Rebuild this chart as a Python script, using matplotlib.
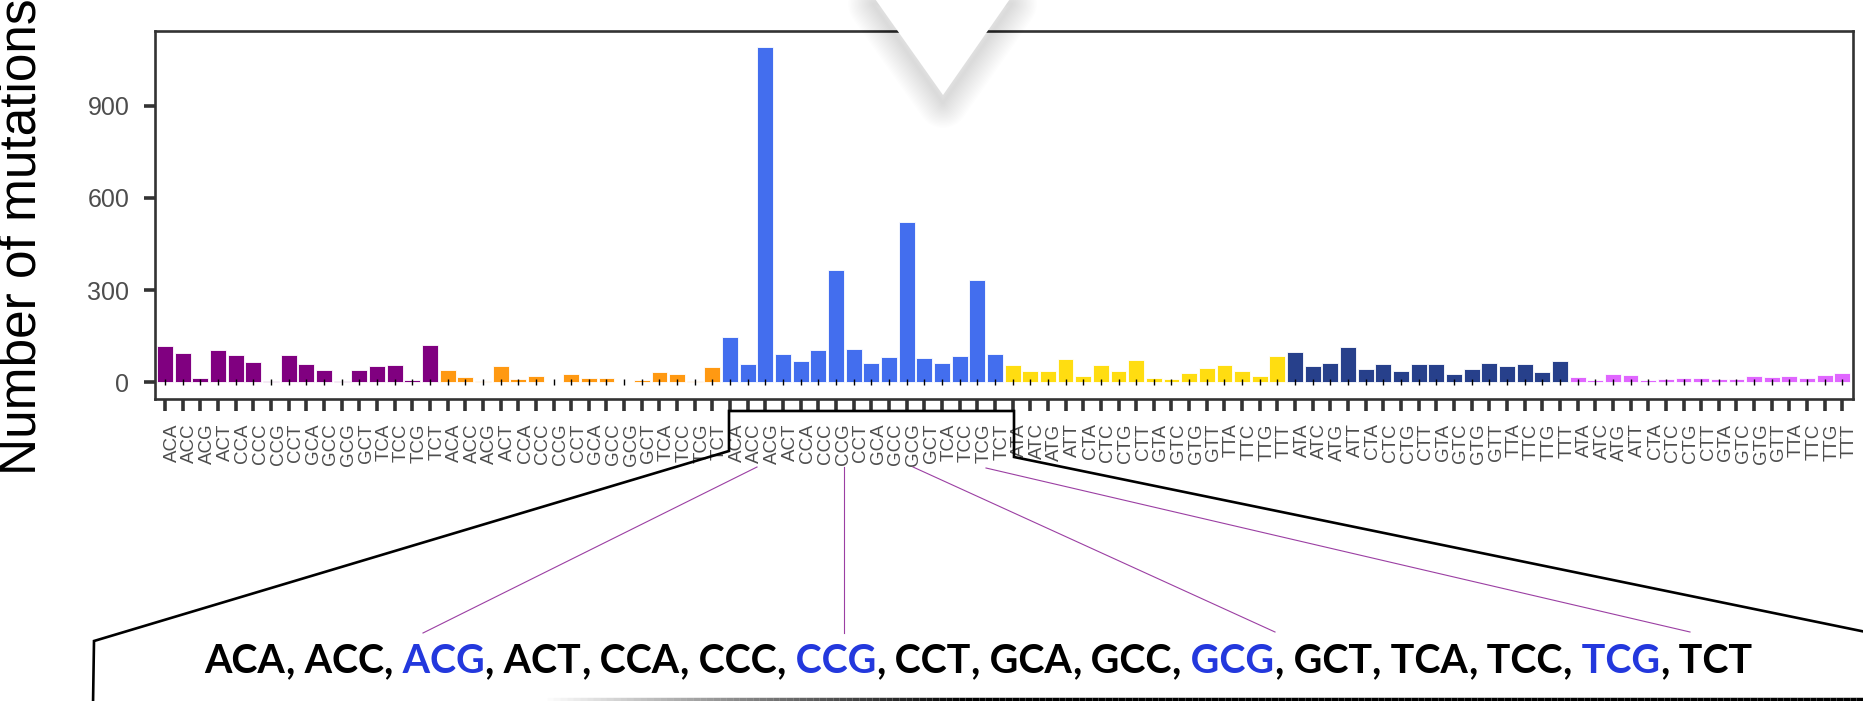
import matplotlib
matplotlib.use('Agg')
import matplotlib.pyplot as plt
import numpy as np
from matplotlib.patches import Polygon
from matplotlib.collections import LineCollection
from matplotlib.transforms import ScaledTranslation
from matplotlib.font_manager import FontProperties

# substitution classes and their colours
classes = ['C>A', 'C>G', 'C>T', 'T>A', 'T>C', 'T>G']
class_colors = ['#800080', '#FF9912', '#436EEE', '#FFDD11', '#27408B', '#E066FF']

# trinucleotide contexts
c_contexts = ['ACA', 'ACC', 'ACG', 'ACT', 'CCA', 'CCC', 'CCG', 'CCT',
              'GCA', 'GCC', 'GCG', 'GCT', 'TCA', 'TCC', 'TCG', 'TCT']
t_contexts = ['ATA', 'ATC', 'ATG', 'ATT', 'CTA', 'CTC', 'CTG', 'CTT',
              'GTA', 'GTC', 'GTG', 'GTT', 'TTA', 'TTC', 'TTG', 'TTT']

# mutation counts per context
ca = [117, 95, 14, 106, 90, 65, 4, 90, 59, 40, 4, 40, 54, 57, 8, 121]
cg = [41, 17, 5, 52, 11, 19, 1, 27, 14, 15, 1, 8, 33, 27, 4, 50]
ct = [147, 59, 1090, 92, 70, 105, 365, 108, 64, 81, 523, 78, 63, 87, 332, 92]
ta = [55, 36, 35, 76, 21, 56, 35, 73, 15, 10, 31, 46, 55, 37, 21, 84]
tc = [100, 52, 63, 114, 43, 59, 37, 60, 59, 27, 44, 63, 54, 58, 32, 70]
tg = [18, 8, 27, 23, 8, 11, 14, 14, 9, 10, 21, 16, 21, 15, 25, 30]

W, H = 1863, 701
fig = plt.figure(figsize=(W / 100, H / 100), dpi=100)
ax = fig.add_axes([154.5 / W, 1 - 399 / H, (1853 - 154.5) / W, (399 - 30.5) / H])

values = np.array(ca + cg + ct + ta + tc + tg)
labels = c_contexts * 3 + t_contexts * 3
cols = np.repeat(class_colors, 16)
x = np.arange(len(values))

ax.bar(x, values, width=0.9, color=cols, edgecolor='white', linewidth=0.6, zorder=2)
ax.plot(x, np.zeros(len(x)), ls='none', marker='|', color='black',
        markersize=4.5, mew=1.0, zorder=3)
ax.set_xlim(-0.6, len(x) - 0.4)
ax.set_ylim(-0.05 * values.max(), 1.05 * values.max())
ax.set_yticks([0, 300, 600, 900])
ax.set_xticks(x)
ax.set_xticklabels(labels, rotation=90, fontsize=13.5, color='#4d4d4d',
                   fontfamily='Liberation Sans', va='top', ha='center')
for lbl in ax.get_yticklabels():
    lbl.set_fontfamily('Liberation Sans')
ax.tick_params(axis='x', length=8.6, width=2.6, color='#333333', pad=9)
ax.tick_params(axis='y', length=8, width=2.6, color='#333333', pad=10,
               labelsize=18, labelcolor='#4d4d4d')
for s in ax.spines.values():
    s.set_linewidth(1.9)
    s.set_color('#333333')
shift = ScaledTranslation(7 / 100, 0, fig.dpi_scale_trans)
for lbl in ax.get_xticklabels():
    lbl.set_transform(lbl.get_transform() + shift)

fig.text(22 / W, 1 - 237 / H, 'Number of mutations', rotation=90, fontsize=37,
         fontfamily='Liberation Sans', ha='center', va='center')

# overlay in pixel coordinates (origin top-left)
ov = fig.add_axes([0, 0, 1, 1], zorder=10)
ov.set_xlim(0, W)
ov.set_ylim(H, 0)
ov.axis('off')

# pointer triangle with soft shadow
tri = np.array([[873, -4], [1012, -4], [943, 95]])
for lw in np.linspace(36, 2, 18):
    ov.add_patch(Polygon(tri + [0, 8], closed=True, fill=False, edgecolor='black',
                         lw=lw, alpha=0.009, joinstyle='round'))
ov.add_patch(Polygon(tri, closed=True, facecolor='white', edgecolor='none'))

# zoom bracket around the C>T labels
bracket = np.array([[93, 705], [94, 641], [729, 451], [729, 411],
                    [1014, 411], [1014, 457], [1866, 632]])
ov.plot(bracket[:, 0], bracket[:, 1], color='black', lw=1.9, solid_joinstyle='miter')

# bottom edge of the callout, fading in from the left
xs = np.linspace(540, W, 200)
segs = [[(xs[i], 699), (xs[i + 1], 699)] for i in range(len(xs) - 1)]
alph = np.clip((xs[:-1] - 540) / 420, 0, 1)
ov.add_collection(LineCollection(segs, colors=[(0, 0, 0, a) for a in alph], linewidths=2.5))

# connectors from CpG labels to the listing
links = [((757, 467), (423, 633)), ((844, 467), (844, 633)),
         ((913, 467), (1275, 632)), ((986, 468), (1690, 632))]
for (x0, y0), (x1, y1) in links:
    ov.plot([x0, x1], [y0, y1], color='#9B3FA3', lw=0.8)

# listing of C>T contexts, CpG ones highlighted
words = c_contexts
tokens = []
for i, w in enumerate(words):
    col = '#2338DD' if w[1:] == 'CG' else 'black'
    tokens.append(((' ' if i else '') + w, col))
    if i < len(words) - 1:
        tokens.append((',', 'black'))
full = ''.join(t for t, _ in tokens)

r = fig.canvas.get_renderer()
def width(s, size):
    fp = FontProperties(family='Lato', weight='bold', size=size)
    return r.get_text_width_height_descent(s, fp, ismath=False)[0]

fs = 28 * 1550 / width(full, 28)
x0, base = 204.5, 673
done = ''
for tok, col in tokens:
    done += tok
    xp = x0 + width(done, fs) - width(tok, fs)
    ov.text(xp, base, tok, color=col, fontsize=fs, fontfamily='Lato',
            fontweight='bold', ha='left', va='baseline')

fig.savefig('out.png', dpi=100)
